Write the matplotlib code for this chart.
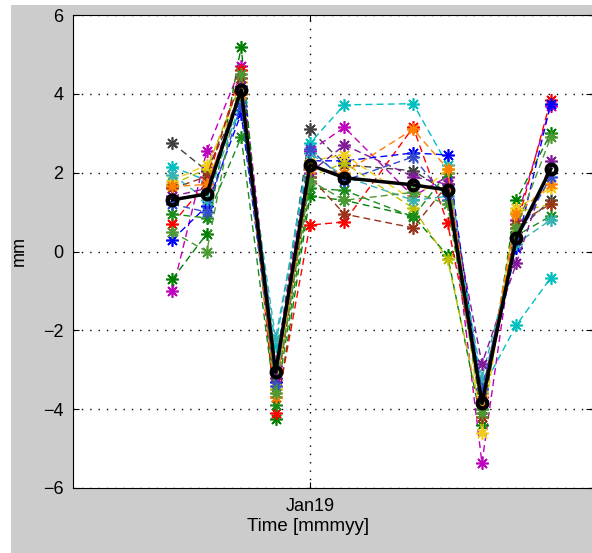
import matplotlib
matplotlib.use('Agg')
import matplotlib.pyplot as plt
from matplotlib.patches import Rectangle

# month index (0 = Sep18); no data for Mar19 (index 6)
months = [0, 1, 2, 3, 4, 5, 7, 8, 9, 10, 11]
tick_pos = [4]
tick_labels = ['Jan19']

mean_vals = [1.31, 1.46, 4.10, -3.06, 2.20, 1.87, 1.69, 1.56, -3.85, 0.34, 2.09]

s_dkgray = [2.75, 2.05, 3.9, -3.0, 3.1, 2.2, 2.05, 1.5, -3.6, 0.5, 1.3]
s_cyan = [2.15, 1.8, 3.6, -2.4, 2.75, 3.72, 3.75, 2.2, -3.5, -1.87, -0.67]
s_magenta = [-1.0, 2.55, 4.7, -2.9, 2.55, 3.15, 1.4, 1.9, -5.37, 0.8, 3.7]
s_green = [-0.7, 0.45, 5.2, -4.25, 1.4, 1.3, 0.9, -0.1, -4.4, 1.3, 3.0]
s_red = [0.7, 1.75, 4.6, -4.1, 0.67, 0.75, 3.15, 0.72, -3.7, 0.6, 3.85]
s_blue = [0.3, 1.15, 3.5, -3.3, 2.3, 2.3, 2.5, 2.45, -3.8, 0.1, 3.75]
s_olive = [1.7, 2.1, 4.3, -3.5, 1.9, 2.25, 1.1, -0.2, -4.2, 1.0, 1.2]
s_green2 = [0.95, 0.85, 2.9, -3.9, 1.6, 1.55, 0.88, 2.0, -4.0, 0.4, 0.9]
s_yellow = [1.8, 2.2, 4.0, -3.5, 2.3, 2.45, 1.3, 2.1, -4.6, 1.1, 1.6]
s_brown = [1.6, 1.9, 4.4, -3.7, 1.9, 0.95, 0.6, 1.7, -4.2, 0.7, 1.2]
s_teal = [1.95, 1.3, 3.8, -2.2, 2.5, 1.9, 1.3, 1.4, -3.2, 0.2, 0.8]
s_purple = [1.4, 1.6, 4.2, -3.2, 2.0, 2.7, 1.9, 1.7, -2.85, -0.3, 2.3]
s_orange = [1.65, 1.7, 4.0, -3.7, 2.1, 2.0, 3.1, 2.1, -3.9, 0.95, 1.7]
s_blue2 = [1.2, 1.0, 3.7, -3.4, 2.6, 1.8, 2.4, 1.3, -3.5, 0.3, 1.9]
s_green3 = [0.5, 0.0, 4.5, -3.6, 1.8, 1.3, 1.5, 1.2, -4.1, 0.6, 2.9]

series = [s_dkgray, s_cyan, s_magenta, s_green, s_red, s_blue, s_olive, s_green2,
          s_yellow, s_brown, s_teal, s_purple, s_orange, s_blue2, s_green3]
colors = [(0.25, 0.25, 0.25), (0.0, 0.75, 0.75), (0.75, 0.0, 0.75), (0.0, 0.5, 0.0),
          (1.0, 0.0, 0.0), (0.0, 0.0, 1.0), (0.75, 0.75, 0.0), (0.1, 0.55, 0.1),
          (0.95, 0.8, 0.1), (0.6, 0.2, 0.1), (0.2, 0.7, 0.7), (0.5, 0.1, 0.6),
          (1.0, 0.5, 0.0), (0.2, 0.3, 0.8), (0.3, 0.6, 0.2)]

plt.rcParams['font.family'] = ['Liberation Sans', 'DejaVu Sans']

fig = plt.figure(figsize=(5.92, 5.53), dpi=100, facecolor='white')
# grey figure area (white strip on left and top)
fig.patches.append(Rectangle((11 / 592, 0), 1, (553 - 5) / 553, transform=fig.transFigure,
                             facecolor='#cccccc', edgecolor='none', zorder=-1))

ax = fig.add_axes([73 / 592, 65 / 553, 519 / 592, 473 / 553])
ax.set_facecolor('white')

for vals, c in zip(series, colors):
    ax.plot(months, vals, linestyle=(0, (5, 3)), color=c, lw=1, marker=(8, 2, 0), ms=9, mew=1.2)

ax.plot(months, mean_vals, color='black', lw=2.5, marker='o', ms=7, mfc='none', mew=3)

ax.set_xlim(-2.89, 12.2)
ax.set_ylim(-6, 6)
ax.set_yticks([-6, -4, -2, 0, 2, 4, 6])
ax.set_xticks(tick_pos)
ax.set_xticklabels(tick_labels)
ax.tick_params(direction='in', top=True, right=True, labelsize=13, length=4, pad=7)
ax.grid(True, color='black', linestyle=(0, (1, 5)), lw=1)
ax.spines['right'].set_visible(False)

ax.set_ylabel('mm', fontsize=13)
ax.yaxis.set_label_coords(-0.088, 0.5)
ax.set_xlabel('Time [mmmyy]', fontsize=13.5, labelpad=1)
ax.xaxis.set_label_coords((308 - 73) / 519, -0.063)

fig.savefig('out.png', dpi=100, facecolor=fig.get_facecolor())
